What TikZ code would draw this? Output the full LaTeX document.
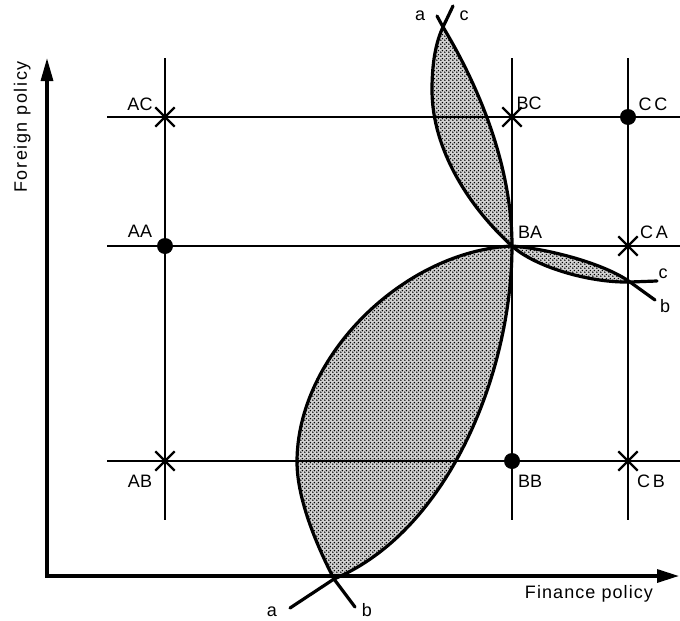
\documentclass[tikz,border=0pt]{standalone}
\usepackage{fontspec}
\setmainfont{Liberation Sans}
\newfontfamily\spacedfont[LetterSpace=6]{Liberation Sans}
\newfontfamily\widefont[LetterSpace=9]{Liberation Sans}
\usetikzlibrary{arrows.meta,patterns,shapes.misc}
\pgfdeclarepatternformonly{stipple}{\pgfqpoint{0pt}{0pt}}{\pgfqpoint{4pt}{4pt}}{\pgfqpoint{4pt}{4pt}}{%
  \pgfpathcircle{\pgfqpoint{1pt}{1pt}}{0.95pt}%
  \pgfpathcircle{\pgfqpoint{3pt}{3pt}}{0.95pt}%
  \pgfusepath{fill}}
\begin{document}
\begin{tikzpicture}[x=1pt,y=-1pt,
  gridline/.style={line width=1.8pt},
  curve/.style={line width=3.2pt, line cap=round, line join=round},
  axisline/.style={line width=3.2pt, line join=miter,
    {Triangle[length=23pt,width=12pt]}-{Triangle[length=22pt,width=13pt]}},
  lens/.style={preaction={fill=gray!35}, pattern=stipple, pattern color=black},
  dotmark/.style={circle, fill, inner sep=0pt, minimum size=16pt},
  xmark/.style={cross out, draw, line width=2.3pt, inner sep=0pt, minimum size=17pt},
  lab/.style={font=\fontsize{18}{20}\selectfont, inner sep=0pt, anchor=base},
  axlab/.style={font=\fontsize{18}{20}\spacedfont, inner sep=0pt, anchor=base},
]
\useasboundingbox (0,0) rectangle (680,621);

% grid points
\coordinate (AC) at (165,117);
\coordinate (BC) at (512,117);
\coordinate (CC) at (628,117);
\coordinate (AA) at (165,246);
\coordinate (BA) at (512,246);
\coordinate (CA) at (628,246);
\coordinate (AB) at (165,461);
\coordinate (BB) at (512,461);
\coordinate (CB) at (628,461);
% curve crossings, extremes and ends
\coordinate (Xbot) at (334,579);
\coordinate (Xtop) at (443,27);
\coordinate (Xright) at (630,282);
\coordinate (Lb) at (297,462);
\coordinate (Lc) at (432,90);
\coordinate (aBot) at (290,608);
\coordinate (bBot) at (355,607);
\coordinate (aTop) at (437,16);
\coordinate (cTop) at (453,6);
\coordinate (bRight) at (655,300);
\coordinate (cRight) at (657,281);
% axes
\coordinate (O) at (47,576);
\coordinate (Ytip) at (47,58);
\coordinate (Xtip) at (679,576);

% shaded lenses
\fill[lens] (Xbot) .. controls (450,530) and (512,370) .. (BA)
  .. controls (405,251) and (297,355) .. (Lb)
  .. controls (297,500) and (318,548) .. (Xbot) -- cycle;
\fill[lens] (BA) .. controls (512,165) and (478,85) .. (Xtop)
  .. controls (434,46) and (432,70) .. (Lc)
  .. controls (432,150) and (470,208) .. (BA) -- cycle;
\fill[lens] (BA) .. controls (550,249) and (605,264) .. (Xright)
  .. controls (590,283) and (535,267) .. (BA) -- cycle;

% grid
\draw[gridline] (165,58) -- (165,520);
\draw[gridline] (512,58) -- (512,520);
\draw[gridline] (628,58) -- (628,520);
\draw[gridline] (107,117) -- (680,117);
\draw[gridline] (107,246) -- (680,246);
\draw[gridline] (107,461) -- (680,461);

% curves a, b, c
\draw[curve] (aBot) -- (Xbot) .. controls (450,530) and (512,370) .. (BA)
  .. controls (512,165) and (478,85) .. (Xtop) -- (aTop);
\draw[curve] (bBot) -- (Xbot) .. controls (318,548) and (297,500) .. (Lb)
  .. controls (297,355) and (405,251) .. (BA)
  .. controls (550,249) and (605,264) .. (Xright) -- (bRight);
\draw[curve] (cTop) -- (Xtop) .. controls (434,46) and (432,70) .. (Lc)
  .. controls (432,150) and (470,208) .. (BA)
  .. controls (535,267) and (590,283) .. (Xright) -- (cRight);

% axes
\draw[axisline] (Ytip) -- (O) -- (Xtip);

% marks
\node[dotmark] (mAA) at (AA) {};
\node[dotmark] (mCC) at (CC) {};
\node[dotmark] (mBB) at (BB) {};
\node[xmark] (mAC) at (AC) {};
\node[xmark] (mBC) at (BC) {};
\node[xmark] (mCA) at (CA) {};
\node[xmark] (mAB) at (AB) {};
\node[xmark] (mCB) at (CB) {};

% point labels
\node[lab] (lAC) at (140,110) {AC};
\node[lab] (lAA) at (140,237) {AA};
\node[lab] (lAB) at (140,487) {AB};
\node[lab] (lBC) at (529,109) {BC};
\node[lab] (lBA) at (530,238) {BA};
\node[lab] (lBB) at (530,487) {BB};
\node[lab] (lCC) at (653,110) {C\kern3pt C};
\node[lab] (lCA) at (654,238) {C\kern3pt A};
\node[lab] (lCB) at (651,487) {C\kern3pt B};

% curve labels
\node[lab] (la1) at (420,20) {a};
\node[lab] (lc1) at (464,20) {c};
\node[lab] (la2) at (272,616) {a};
\node[lab] (lb2) at (367,616) {b};
\node[lab] (lc3) at (663,278) {c};
\node[lab] (lb3) at (665,312) {b};

% axis labels
\node[axlab] (xlab) at (589,598) {Finance policy};
\node[lab, font=\fontsize{18}{20}\widefont, rotate=90] (ylab) at (27,127) {Foreign policy};
\end{tikzpicture}
\end{document}
